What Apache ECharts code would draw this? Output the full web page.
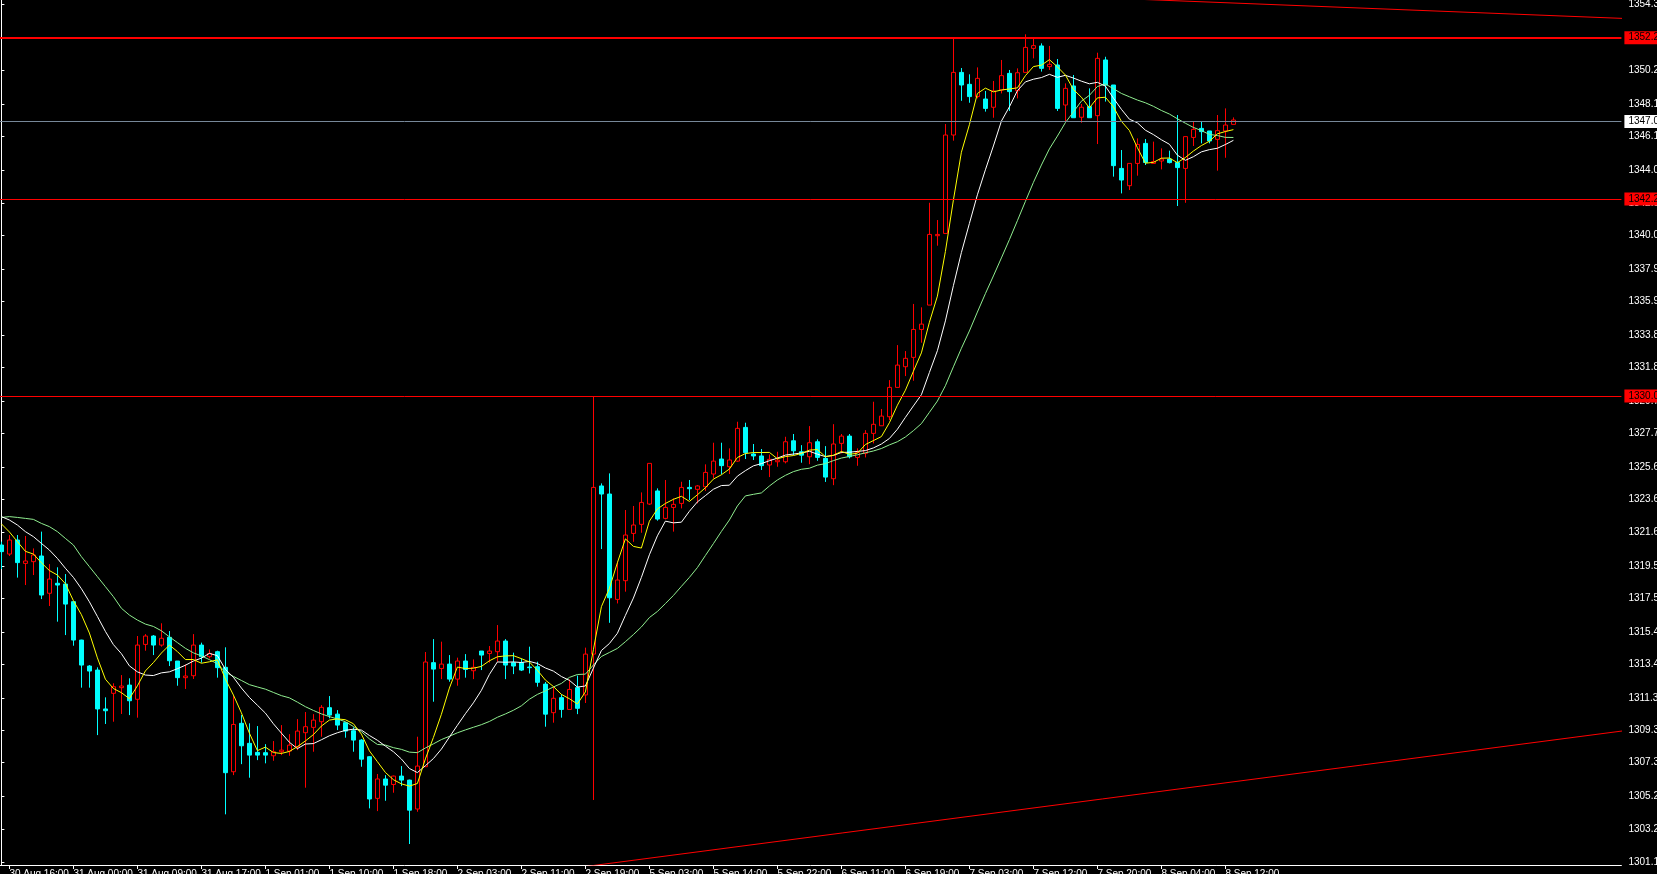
<!DOCTYPE html>
<html>
<head>
<meta charset="utf-8">
<script src="https://cdn.jsdelivr.net/npm/echarts@6/dist/echarts.min.js"></script>
<style>
html,body{margin:0;padding:0;background:#000;overflow:hidden;}
#chart{width:1657px;height:874px;}
</style>
</head>
<body>
<div id="chart"></div>
<script>
// ---- Hour bars per day (H1 candles, XAUUSD) ----
const dayHours = [
  ['30 Aug', [15,16,17,18,19,20,21,22,23]],
  ['31 Aug', [0,1,3,4,5,6,7,8,9,10,11,12,13,14,15,16,17,18,19,20,21,22,23]],
  ['1 Sep',  [0,1,3,4,5,6,7,8,9,10,11,12,13,14,15,16,17,18,19,20,21,22,23]],
  ['2 Sep',  [0,1,3,4,5,6,7,8,9,10,11,12,13,14,15,16,17,18,19,20,21,22,23]],
  ['5 Sep',  [0,1,2,3,4,5,6,7,8,9,13,14,15,16,17,18,19,20,21,22,23]],
  ['6 Sep',  [5,6,7,8,9,10,11,12,13,14,15,16,17,18,19,20,21,22,23]],
  ['7 Sep',  [0,1,2,3,4,5,6,7,8,9,11,12,13,14,15,16,17,18,19,20,21,22,23]],
  ['8 Sep',  [0,1,2,3,4,5,6,7,8,9,10,11,12,13]]
];
const futureSlots = 48;

const opens = [
1320.79,1320.23,1321.10,1319.65,1319.76,1320.11,1317.80,1318.42,1318.37,1317.28,
1314.90,1313.29,1313.04,1310.63,1311.60,1311.95,1312.11,1311.23,1314.63,1315.15,
1314.59,1315.07,1313.60,1312.57,1312.69,1314.59,1313.87,1314.18,1313.21,1306.74,
1309.74,1308.50,1307.94,1307.92,1307.73,1307.98,1308.02,1308.29,1309.16,1309.49,
1309.84,1310.71,1310.31,1309.78,1309.28,1308.70,1307.67,1305.09,1306.29,1305.95,
1306.47,1306.22,1304.43,1307.05,1313.50,1313.14,1313.41,1312.48,1313.60,1313.00,
1314.22,1314.07,1314.18,1314.84,1313.50,1313.50,1313.23,1313.25,1312.17,1310.40,
1311.33,1310.60,1311.95,1311.50,1314.03,1324.45,1323.95,1317.42,1318.58,1321.51,
1322.07,1323.33,1324.14,1322.44,1323.12,1323.37,1324.36,1324.24,1324.40,1325.19,
1326.12,1325.64,1325.99,1328.08,1326.43,1326.31,1325.75,1325.95,1325.95,1327.25,
1326.57,1326.26,1327.19,1326.16,1324.90,1327.09,1327.54,1326.22,1326.47,1327.71,
1328.18,1328.74,1330.56,1331.84,1332.42,1334.15,1335.66,1339.96,1340.10,1346.20,
1350.08,1349.34,1348.58,1348.43,1347.92,1348.99,1350.02,1348.95,1350.08,1351.57,
1351.72,1350.44,1350.54,1348.06,1349.24,1347.30,1347.96,1347.40,1350.85,1349.30,
1344.13,1343.06,1344.44,1345.68,1344.44,1344.59,1344.71,1344.49,1344.13,1346.05,
1346.61,1346.45,1345.93,1346.45,1346.86
];
const highs = [
1321.00,1321.41,1321.41,1321.35,1320.58,1321.62,1319.61,1319.41,1318.99,1317.30,
1314.92,1313.35,1313.21,1311.35,1312.22,1312.73,1312.53,1315.15,1315.27,1315.21,
1315.94,1315.46,1313.60,1313.39,1315.27,1314.74,1314.32,1314.24,1314.45,1311.43,
1310.25,1309.74,1309.57,1308.45,1308.64,1309.63,1309.07,1310.00,1310.44,1310.31,
1310.87,1311.43,1310.56,1309.80,1309.49,1308.76,1307.70,1306.60,1306.53,1306.50,
1307.09,1306.25,1308.91,1314.16,1314.96,1314.80,1313.97,1313.81,1314.03,1313.70,
1314.22,1314.53,1315.83,1314.96,1314.12,1313.76,1314.49,1313.56,1312.30,1312.01,
1311.53,1312.46,1312.70,1314.43,1329.98,1324.61,1325.23,1319.76,1322.96,1323.21,
1324.05,1325.85,1324.30,1324.82,1323.68,1324.71,1324.82,1324.51,1325.79,1327.13,
1327.13,1326.78,1328.43,1328.37,1327.05,1326.74,1326.40,1326.57,1327.50,1327.67,
1326.98,1328.16,1327.34,1326.92,1328.28,1327.67,1327.67,1326.78,1327.91,1329.67,
1329.22,1331.01,1333.18,1332.81,1335.73,1335.52,1342.00,1340.93,1346.88,1352.19,
1350.35,1349.96,1350.39,1348.93,1349.55,1350.85,1350.23,1350.33,1352.44,1352.15,
1351.88,1351.72,1350.91,1349.40,1349.92,1348.12,1349.09,1351.30,1351.05,1349.30,
1345.27,1344.44,1345.99,1345.95,1345.79,1345.37,1345.23,1347.44,1346.10,1347.03,
1347.03,1346.45,1347.44,1347.85,1347.29
];
const lows = [
1319.30,1320.11,1318.77,1318.31,1318.93,1317.44,1317.01,1316.04,1315.21,1314.55,
1311.95,1311.95,1309.01,1309.70,1309.84,1310.32,1310.25,1310.09,1314.24,1313.97,
1314.49,1313.29,1312.07,1311.87,1312.49,1313.50,1313.76,1312.57,1304.10,1306.53,
1307.21,1306.37,1307.46,1307.26,1307.42,1307.77,1307.73,1308.08,1305.75,1307.98,
1308.91,1310.05,1309.32,1308.85,1307.98,1307.05,1304.47,1304.30,1304.94,1305.44,
1305.85,1302.26,1304.26,1307.05,1311.08,1312.48,1312.32,1312.07,1312.57,1312.48,
1313.04,1313.50,1313.56,1312.48,1312.79,1312.98,1312.83,1312.01,1309.53,1309.78,
1310.09,1310.60,1310.31,1311.00,1304.99,1320.54,1315.97,1317.17,1317.90,1320.99,
1321.55,1323.27,1322.30,1322.38,1321.62,1323.06,1323.58,1323.37,1324.14,1324.92,
1325.17,1325.19,1325.95,1326.12,1326.06,1325.44,1325.00,1325.64,1325.85,1326.36,
1325.89,1325.80,1326.01,1324.70,1324.50,1326.47,1326.16,1325.70,1326.22,1327.09,
1328.18,1328.53,1330.56,1331.26,1330.97,1333.33,1335.66,1339.34,1340.10,1345.85,
1348.32,1348.20,1348.47,1347.65,1347.27,1348.78,1347.69,1348.47,1350.08,1350.95,
1350.13,1350.23,1347.69,1347.03,1347.27,1346.96,1347.27,1345.64,1348.27,1343.62,
1342.58,1342.79,1343.68,1344.34,1344.44,1344.07,1344.44,1341.80,1342.00,1345.52,
1345.68,1345.68,1343.99,1344.79,1346.86
];
const closes = [
1320.38,1321.10,1319.70,1319.80,1320.17,1317.69,1318.68,1318.31,1317.13,1314.90,
1313.35,1312.98,1310.63,1310.52,1312.01,1312.05,1311.14,1314.59,1315.15,1314.59,
1315.01,1313.62,1312.57,1312.67,1314.59,1313.87,1314.07,1313.19,1306.68,1309.67,
1308.35,1307.77,1307.77,1307.77,1307.98,1308.08,1308.39,1309.26,1309.53,1309.94,
1310.73,1310.25,1309.63,1309.26,1308.70,1307.52,1305.05,1306.29,1305.91,1306.47,
1306.22,1304.36,1307.09,1313.54,1313.10,1313.41,1312.48,1313.60,1313.08,1313.21,
1313.97,1314.22,1314.84,1313.35,1313.29,1313.04,1313.19,1312.28,1310.31,1311.29,
1310.60,1311.84,1310.67,1314.03,1324.36,1323.95,1317.52,1318.62,1321.41,1322.03,
1323.43,1325.85,1322.40,1323.12,1323.31,1324.36,1324.28,1324.45,1325.29,1325.99,
1325.71,1326.06,1328.02,1326.51,1326.31,1325.71,1326.10,1326.05,1327.19,1326.63,
1326.36,1327.13,1326.22,1325.00,1327.05,1327.54,1326.26,1326.53,1327.71,1328.27,
1328.78,1330.56,1331.94,1332.36,1334.15,1334.48,1340.04,1340.04,1346.20,1350.08,
1349.30,1348.58,1349.71,1347.85,1348.93,1349.88,1348.89,1350.06,1351.63,1351.74,
1350.33,1350.58,1347.85,1349.09,1347.27,1347.92,1347.27,1350.95,1349.30,1344.30,
1343.41,1344.44,1345.62,1344.50,1344.55,1344.71,1344.49,1344.18,1346.10,1346.55,
1346.41,1345.83,1346.47,1346.82,1347.13
];

const ma5Lead  = [1322.1, 1321.6, 1321.0, 1320.4];
const ma10Lead = [1322.55, 1322.34, 1322.03, 1321.62, 1321.31, 1320.89, 1320.48, 1319.96, 1319.35];
const ma20Lead = [1322.5, 1322.55, 1322.5, 1322.44, 1322.38, 1322.13, 1321.93, 1321.62, 1321.2, 1320.79,
                  1320.07, 1319.45, 1318.83, 1318.21, 1317.59, 1316.87, 1316.45, 1316.14, 1315.89];

// Price axis tick labels
const yTicks = [1301.1,1303.2,1305.2,1307.3,1309.3,1311.3,1313.4,1315.4,1317.5,1319.5,1321.6,1323.6,1325.6,
                1327.7,1329.7,1331.8,1333.8,1335.9,1337.9,1340.0,1342.0,1344.0,1346.1,1348.1,1350.2,1352.2,1354.3];
const yMin = 1300.96, yMax = 1354.567;

// Horizontal levels and current price
const redLevels = [1352.23, 1342.24, 1330.03];
const redLevelWidths = [2, 1, 1];
const bidPrice = 1347.04;

// Trend lines: [bar index, price]
const trendTop = [[130, 1354.85], [203, 1353.42]];
const trendBottom = [[70, 1300.67], [203, 1309.29]];

// ---- build ----
const pad = n => (n < 10 ? '0' : '') + n;
const categories = [];
dayHours.forEach(([d, hs]) => hs.forEach(h => categories.push(d + ' ' + pad(h) + ':00')));
const nBars = categories.length;
for (let k = 0; k < futureSlots; k++) categories.push('future ' + (k + 1));
const nSlots = categories.length;

const candleData = opens.map((o, i) => [o, closes[i], lows[i], highs[i]]);
function sma(n, lead) {
  return closes.map((c, i) => {
    if (i < n - 1) return lead[i];
    let s = 0;
    for (let k = i - n + 1; k <= i; k++) s += closes[k];
    return +(s / n).toFixed(3);
  });
}
const ma5 = sma(5, ma5Lead), ma10 = sma(10, ma10Lead), ma20 = sma(20, ma20Lead);

const FONT = 'Liberation Sans';
const showTick = (idx) => idx < nBars && (idx - 1) % 8 === 0;

const boxLabel = (bg) => ({
  show: true, position: 'end', distance: 3,
  formatter: p => p.value.toFixed(1),
  backgroundColor: bg, color: '#000', fontFamily: FONT, fontSize: 10,
  padding: [1, 8, 1, 4], lineHeight: 11
});

const markData = redLevels.map((v, i) => ({
  yAxis: v, lineStyle: { color: '#ff0000', width: redLevelWidths[i], type: 'solid' },
  label: boxLabel('#ff0000')
}));
markData.push({ yAxis: bidPrice, lineStyle: { color: '#778899', width: 1, type: 'solid' }, label: boxLabel('#ffffff') });

const chart = echarts.init(document.getElementById('chart'), null, { renderer: 'canvas' });
chart.setOption({
  backgroundColor: '#000000',
  animation: false,
  grid: { left: -2.6, top: 0, width: nSlots * 8, height: 865, containLabel: false, outerBoundsMode: 'none' },
  xAxis: [{
    type: 'category', data: categories, boundaryGap: true,
    axisLine: { show: true, lineStyle: { color: '#ffffff', width: 1 } },
    axisTick: { show: true, alignWithLabel: true, interval: showTick, length: 4, lineStyle: { color: '#ffffff' } },
    axisLabel: { show: true, interval: showTick, align: 'left', margin: 4, color: '#ffffff', fontFamily: FONT, fontSize: 10 },
    splitLine: { show: false }
  }, {
    type: 'value', min: -0.5, max: nSlots - 0.5, show: false
  }],
  yAxis: [{
    type: 'value', position: 'right', min: yMin, max: yMax, offset: 2,
    axisLine: { show: true, lineStyle: { color: '#ffffff', width: 1 } },
    axisTick: { show: true, length: 3, customValues: yTicks, lineStyle: { color: '#ffffff' } },
    axisLabel: { show: true, customValues: yTicks, margin: 5, color: '#ffffff', fontFamily: FONT, fontSize: 10,
                 formatter: v => v.toFixed(1) },
    splitLine: { show: false }
  }],
  series: [
    {
      type: 'line', xAxisIndex: 1, data: trendTop, showSymbol: false, silent: true,
      lineStyle: { color: '#ff0000', width: 1 }, clip: true, z: 1
    },
    {
      type: 'line', xAxisIndex: 1, data: trendBottom, showSymbol: false, silent: true,
      lineStyle: { color: '#ff0000', width: 1 }, clip: true, z: 1
    },
    {
      type: 'candlestick', name: 'XAUUSD,H1', data: candleData, barWidth: 4, z: 2,
      itemStyle: { color: '#000000', color0: '#00ffff', borderColor: '#ff0000', borderColor0: '#00ffff', borderWidth: 1 },
      markLine: { symbol: ['none', 'none'], silent: true, animation: false, data: markData }
    },
    { type: 'line', name: 'MA20', data: ma20, showSymbol: false, lineStyle: { color: '#90ee90', width: 1 }, z: 3 },
    { type: 'line', name: 'MA10', data: ma10, showSymbol: false, lineStyle: { color: '#ffffff', width: 1 }, z: 3 },
    { type: 'line', name: 'MA5',  data: ma5,  showSymbol: false, lineStyle: { color: '#ffff00', width: 1 }, z: 3 }
  ]
});
</script>
</body>
</html>
